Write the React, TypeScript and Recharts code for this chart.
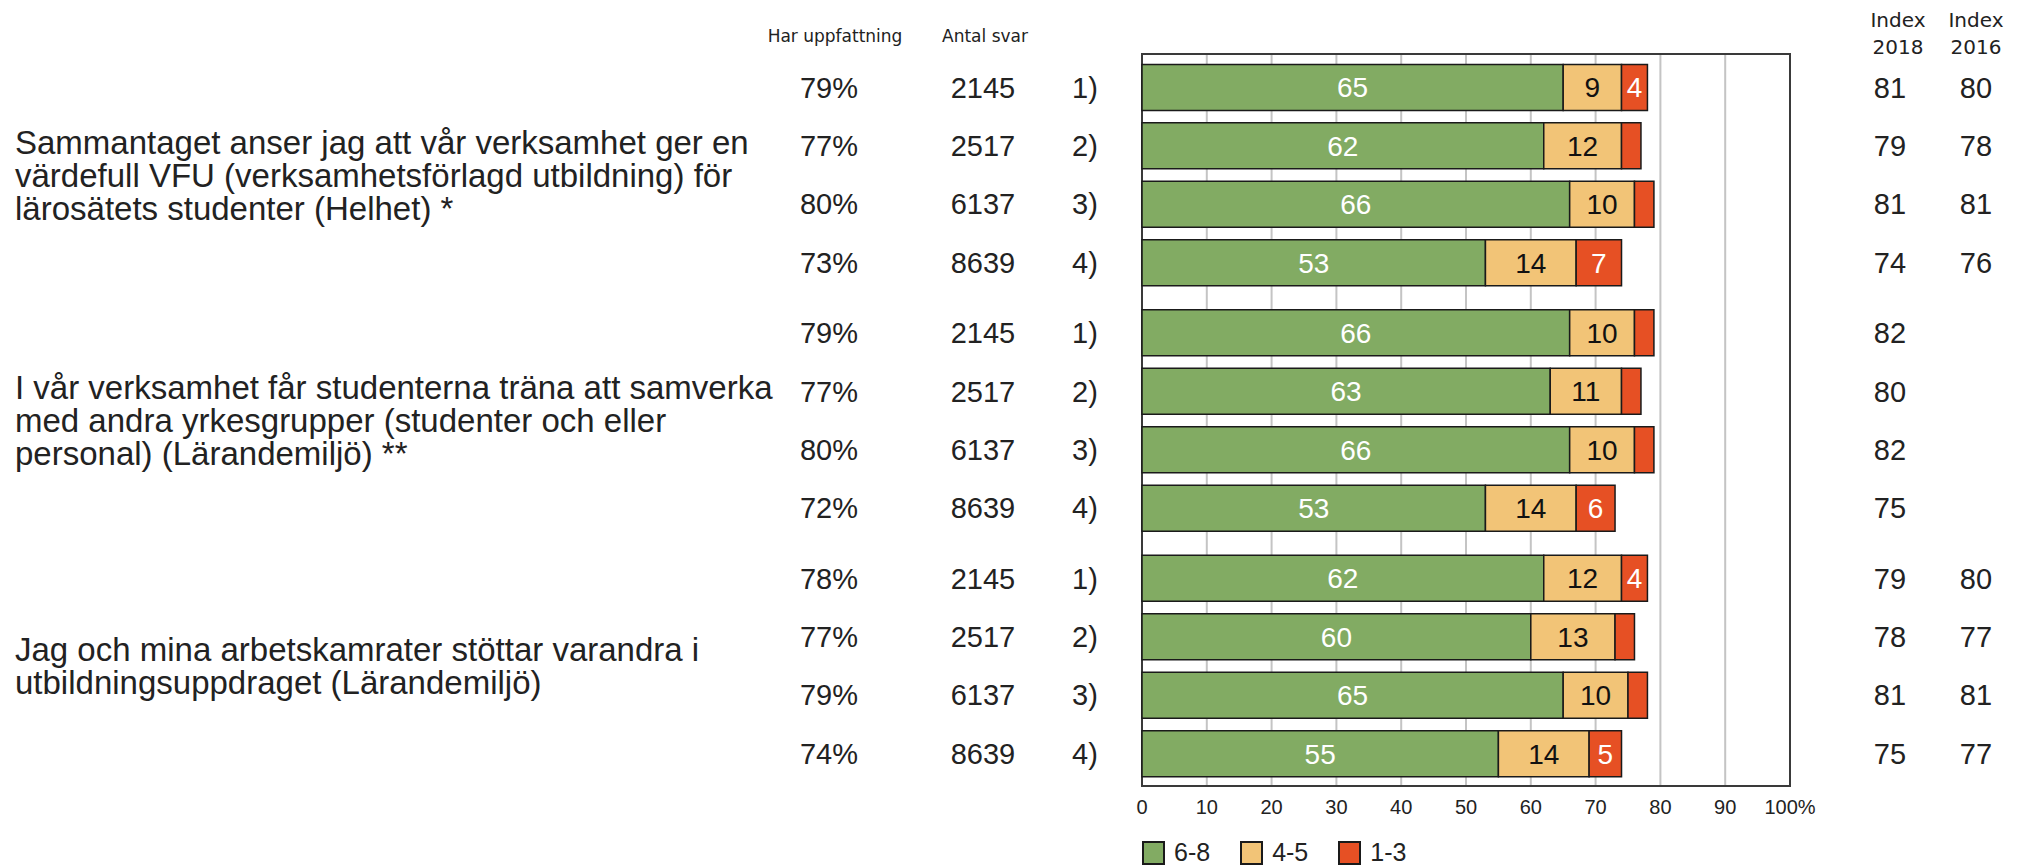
import React from "react";
import {
  BarChart,
  Bar,
  XAxis,
  YAxis,
  CartesianGrid,
  LabelList,
  ReferenceArea,
  Legend,
} from "recharts";

const questions = [
  [
    "Sammantaget anser jag att vår verksamhet ger en",
    "värdefull VFU (verksamhetsförlagd utbildning) för",
    "lärosätets studenter (Helhet) *",
  ],
  [
    "I vår verksamhet får studenterna träna att samverka",
    "med andra yrkesgrupper (studenter och eller",
    "personal) (Lärandemiljö) **",
  ],
  [
    "Jag och mina arbetskamrater stöttar varandra i",
    "utbildningsuppdraget (Lärandemiljö)",
  ],
];

const groupNames = ["1)", "2)", "3)", "4)"];
const harUppfattning = [79, 77, 80, 73, 79, 77, 80, 72, 78, 77, 79, 74];
const antalSvar = [2145, 2517, 6137, 8639, 2145, 2517, 6137, 8639, 2145, 2517, 6137, 8639];
const high = [65, 62, 66, 53, 66, 63, 66, 53, 62, 60, 65, 55]; // 6-8
const mid = [9, 12, 10, 14, 10, 11, 10, 14, 12, 13, 10, 14]; // 4-5
const low = [4, 3, 3, 7, 3, 3, 3, 6, 4, 3, 3, 5]; // 1-3
const index2018 = [81, 79, 81, 74, 82, 80, 82, 75, 79, 78, 81, 75];
const index2016 = [80, 78, 81, 76, null, null, null, null, 80, 77, 81, 77];
const xTicks = [0, 10, 20, 30, 40, 50, 60, 70, 80, 90, 100];

const series = [
  { key: "high", name: "6-8", color: "#82AB63", label: "#ffffff" },
  { key: "mid", name: "4-5", color: "#F2C477", label: "#111111" },
  { key: "low", name: "1-3", color: "#E65024", label: "#ffffff" },
];

// layout
const W = 2021;
const H = 865;
const PLOT_LEFT = 1142;
const PLOT_RIGHT = 1790;
const PLOT_TOP = 54;
const AXIS_H = 79;
const GROUP_GAP = 0.2;
const Y_MIN = -0.575;
const Y_MAX = 11.95;
const STEP = (H - AXIS_H - PLOT_TOP) / (Y_MAX - Y_MIN);

const rows = high.map((_, i) => ({
  pos: i + Math.floor(i / 4) * GROUP_GAP,
  high: high[i],
  mid: mid[i],
  low: low[i],
  har: harUppfattning[i],
  antal: antalSvar[i],
  idx18: index2018[i],
  idx16: index2016[i],
}));
const yTicks = rows.map((r) => r.pos);

const numFont = "'Liberation Sans', Arial, sans-serif";
const headFont = "'DejaVu Sans', Verdana, sans-serif";
const narrowFont = "'Liberation Sans Narrow', 'Liberation Sans', Arial, sans-serif";

// draws every text column of a row (left table, question, index columns)
function RowTick(props: any) {
  const { y, payload } = props;
  const i = yTicks.indexOf(payload.value);
  if (i < 0) return null;
  const r = rows[i];
  const k = i % 4;
  const g = Math.floor(i / 4);
  const lines = questions[g];
  const LH = 33;
  const cy = y + 1.5 * STEP;
  return (
    <g>
      {i === 0 && (
        <g fontFamily={headFont} fill="#222" textAnchor="middle">
          <text x={835} y={y - 52} fontSize={17} dominantBaseline="central">
            Har uppfattning
          </text>
          <text x={985} y={y - 52} fontSize={17} dominantBaseline="central">
            Antal svar
          </text>
          <text x={1898} y={y - 68} fontSize={20} dominantBaseline="central">Index</text>
          <text x={1898} y={y - 41} fontSize={20} dominantBaseline="central">2018</text>
          <text x={1976} y={y - 68} fontSize={20} dominantBaseline="central">Index</text>
          <text x={1976} y={y - 41} fontSize={20} dominantBaseline="central">2016</text>
        </g>
      )}
      {k === 0 &&
        lines.map((line, j) => (
          <text
            key={j}
            x={15}
            y={cy + (j - (lines.length - 1) / 2) * LH}
            dominantBaseline="central"
            fontFamily={numFont}
            fontSize={33}
            fill="#222"
          >
            {line}
          </text>
        ))}
      <g fontFamily={numFont} fontSize={29} fill="#222" textAnchor="middle">
        <text x={829} y={y} dominantBaseline="central">
          {r.har}%
        </text>
        <text x={983} y={y} dominantBaseline="central">
          {r.antal}
        </text>
        <text x={1085} y={y} dominantBaseline="central">
          {groupNames[k]}
        </text>
        <text x={1890} y={y} dominantBaseline="central">{r.idx18}</text>
        {r.idx16 != null && (
          <text x={1976} y={y} dominantBaseline="central">{r.idx16}</text>
        )}
      </g>
    </g>
  );
}

function LegendContent() {
  return (
    <div style={{ display: "flex", alignItems: "center", gap: 30 }}>
      {series.map((s) => (
        <div key={s.key} style={{ display: "flex", alignItems: "center", gap: 9 }}>
          <span
            style={{
              width: 23,
              height: 24,
              background: s.color,
              border: "2px solid #1a1a1a",
              boxSizing: "border-box",
              display: "inline-block",
            }}
          />
          <span style={{ fontFamily: narrowFont, fontSize: 25, color: "#222" }}>{s.name}</span>
        </div>
      ))}
    </div>
  );
}

export default function App() {
  return (
    <div style={{ position: "absolute", left: 0, top: 0, width: W, height: H, background: "#fff" }}>
      <BarChart
        width={W}
        height={H}
        data={rows}
        layout="vertical"
        margin={{ top: PLOT_TOP, right: W - PLOT_RIGHT, bottom: 0, left: 0 }}
      >
        <CartesianGrid horizontal={false} stroke="#c4c4c4" strokeWidth={2} />
        <XAxis
          type="number"
          domain={[0, 100]}
          ticks={xTicks}
          height={AXIS_H}
          axisLine={false}
          tickLine={false}
          tickMargin={8}
          tick={{ fontFamily: narrowFont, fontSize: 20, fill: "#222" }}
          tickFormatter={(v) => (v === 100 ? "100%" : String(v))}
        />
        <YAxis
          type="number"
          dataKey="pos"
          domain={[Y_MIN, Y_MAX]}
          ticks={yTicks}
          interval={0}
          width={PLOT_LEFT}
          axisLine={false}
          tickLine={false}
          tick={<RowTick />}
        />
        {series.map((s) => (
          <Bar
            key={s.key}
            dataKey={s.key}
            name={s.name}
            stackId="a"
            fill={s.color}
            stroke="#1a1a1a"
            strokeWidth={1.5}
            barSize={46}
            isAnimationActive={false}
          >
            <LabelList
              dataKey={s.key}
              position="center"
              fill={s.label}
              fontFamily={narrowFont}
              fontSize={28}
              formatter={(v: any) => (s.key === "low" && v < 4 ? "" : v)}
            />
          </Bar>
        ))}
        <ReferenceArea
          x1={0}
          x2={100}
          y1={Y_MIN}
          y2={Y_MAX}
          fill="none"
          stroke="#3a3a3a"
          strokeWidth={2}
          ifOverflow="visible"
        />
        <Legend
          layout="horizontal"
          verticalAlign="middle"
          align="center"
          content={<LegendContent />}
          wrapperStyle={{ position: "absolute", left: PLOT_LEFT, top: 838, width: "auto" }}
        />
      </BarChart>
    </div>
  );
}
